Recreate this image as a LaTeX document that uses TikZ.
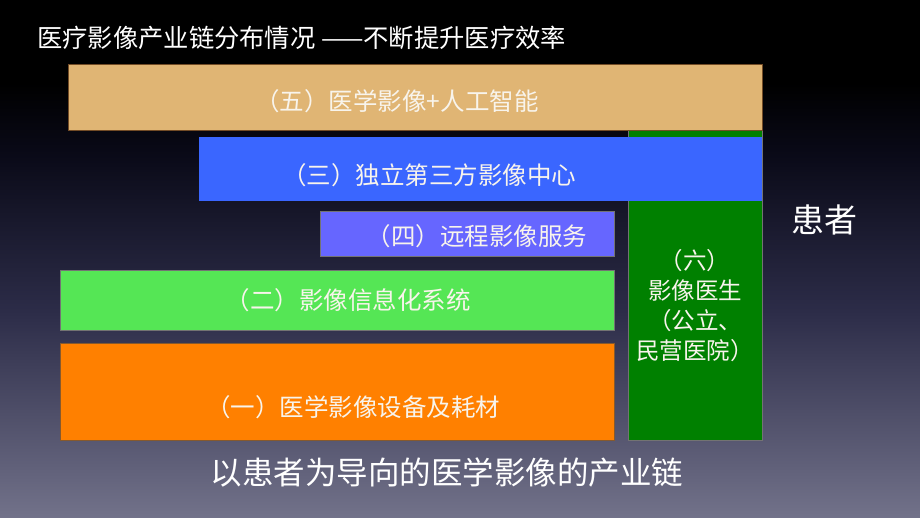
\documentclass[tikz,border=0pt]{standalone}
\usepackage{fontspec}
\newfontfamily\cjk{Noto Sans CJK SC}
\definecolor{bgbot}{HTML}{72728A}
\definecolor{bgmid}{HTML}{2C2C48}
\definecolor{bgtop}{HTML}{0A0A18}
\definecolor{tanc}{HTML}{E0B574}
\definecolor{bluec}{HTML}{3A66FF}
\definecolor{violc}{HTML}{6666FF}
\definecolor{greenl}{HTML}{55E655}
\definecolor{orangec}{HTML}{FF8000}
\definecolor{greend}{HTML}{008000}
\definecolor{txtc}{HTML}{F8F4EC}
\pgfdeclareverticalshading{bgshade}{100bp}{color(0bp)=(bgbot); color(25bp)=(bgbot); color(45bp)=(bgmid); color(60bp)=(bgtop); color(67bp)=(black); color(100bp)=(black)}
\tikzset{
  box/.style={draw=black!55, line width=0.6pt, anchor=north west, inner sep=0pt},
  txt/.style={text=txtc, inner sep=0pt, font=\cjk\fontsize{24.5}{28}\selectfont},
}
\begin{document}
\begin{tikzpicture}[x=1pt,y=-1pt]
\useasboundingbox (0,0) rectangle (920,518);
\shade[shading=bgshade] (0,0) rectangle (920,518);
% boxes
\node[box, fill=greend, minimum width=134pt, minimum height=310pt] (b6) at (628,130) {};
\node[box, fill=tanc, draw=brown!60!black, minimum width=694pt, minimum height=66pt] (b5) at (68,64) {};
\node[box, fill=bluec, draw=none, minimum width=563pt, minimum height=64pt] (b3) at (199,137) {};
\node[box, fill=violc, minimum width=294pt, minimum height=45pt] (b4) at (320,211) {};
\node[box, fill=greenl, minimum width=554pt, minimum height=60pt] (b2) at (60,270) {};
\node[box, fill=orangec, draw=brown!70!black, minimum width=554pt, minimum height=97pt] (b1) at (60,343) {};
% texts
\node[txt, anchor=west, text=white, font=\cjk\fontsize{25.3}{28}\selectfont] (title) at (37,38) {医疗影像产业链分布情况 ——不断提升医疗效率};
\node[txt] (t5) at (397,101) {（五）医学影像+人工智能};
\node[txt] (t3) at (429,175) {（三）独立第三方影像中心};
\node[txt] (t4) at (477,236) {（四）远程影像服务};
\node[txt] (t2) at (348,300) {（二）影像信息化系统};
\node[txt] (t1) at (353,407) {（一）医学影像设备及耗材};
\node[txt, align=center, font=\cjk\fontsize{23.5}{30}\selectfont] (t6) at (695,306) {（六）\\影像医生\\（公立、\\民营医院）};
\node[txt, text=white, font=\cjk\fontsize{33}{36}\selectfont] (pat) at (824,220) {患者};
\node[txt, text=white, font=\cjk\fontsize{31.5}{36}\selectfont] (bottom) at (447,472) {以患者为导向的医学影像的产业链};
\end{tikzpicture}
\end{document}
